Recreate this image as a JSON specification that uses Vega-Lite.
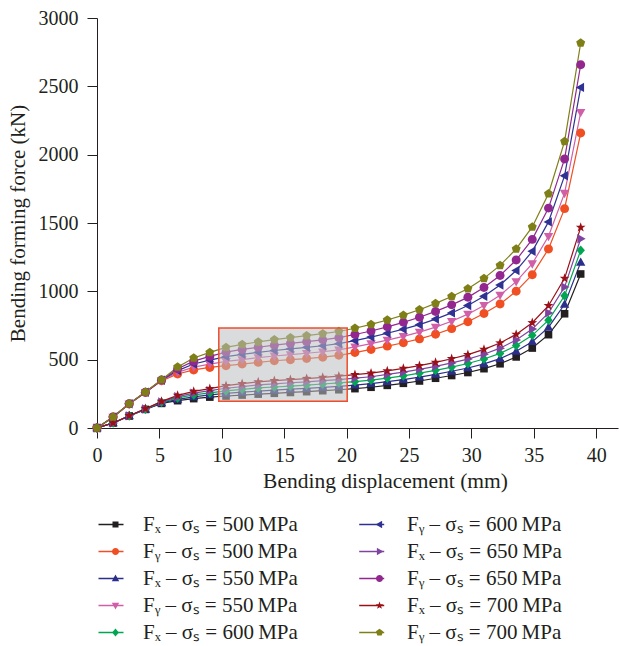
{
  "$schema": "https://vega.github.io/schema/vega-lite/v6.json",
  "width": 521,
  "height": 410,
  "autosize": {"type": "none"},
  "padding": {"left": 97, "top": 18, "right": 1, "bottom": 218},
  "background": "white",
  "config": {
    "view": {"stroke": null},
    "font": "Liberation Serif",
    "axis": {
      "grid": false,
      "domainColor": "#231f20",
      "domainWidth": 1,
      "tickColor": "#231f20",
      "tickWidth": 1,
      "labelColor": "#231f20",
      "titleColor": "#231f20",
      "labelFont": "Liberation Serif",
      "titleFont": "Liberation Serif",
      "labelFontSize": 20,
      "titleFontSize": 21,
      "titleFontWeight": "normal",
      "labelFlush": false,
      "labelOverlap": false,
      "labelBound": false
    }
  },
  "data": {
    "values": [
      {"s": "Fx500", "d": 0, "f": 0}, {"s": "Fx500", "d": 1.29, "f": 37}, {"s": "Fx500", "d": 2.58, "f": 88}, {"s": "Fx500", "d": 3.88, "f": 136}, {"s": "Fx500", "d": 5.17, "f": 180}, {"s": "Fx500", "d": 6.46, "f": 200}, {"s": "Fx500", "d": 7.75, "f": 215}, {"s": "Fx500", "d": 9.04, "f": 226}, {"s": "Fx500", "d": 10.34, "f": 234}, {"s": "Fx500", "d": 11.63, "f": 241}, {"s": "Fx500", "d": 12.92, "f": 248}, {"s": "Fx500", "d": 14.21, "f": 254}, {"s": "Fx500", "d": 15.5, "f": 260}, {"s": "Fx500", "d": 16.8, "f": 266}, {"s": "Fx500", "d": 18.09, "f": 273}, {"s": "Fx500", "d": 19.38, "f": 280}, {"s": "Fx500", "d": 20.67, "f": 288}, {"s": "Fx500", "d": 21.96, "f": 298}, {"s": "Fx500", "d": 23.26, "f": 312}, {"s": "Fx500", "d": 24.55, "f": 327}, {"s": "Fx500", "d": 25.84, "f": 344}, {"s": "Fx500", "d": 27.13, "f": 364}, {"s": "Fx500", "d": 28.42, "f": 384}, {"s": "Fx500", "d": 29.72, "f": 406}, {"s": "Fx500", "d": 31.01, "f": 434}, {"s": "Fx500", "d": 32.3, "f": 470}, {"s": "Fx500", "d": 33.59, "f": 520}, {"s": "Fx500", "d": 34.88, "f": 585}, {"s": "Fx500", "d": 36.18, "f": 683}, {"s": "Fx500", "d": 37.47, "f": 836}, {"s": "Fx500", "d": 38.76, "f": 1127},
      {"s": "Fy500", "d": 0, "f": 0}, {"s": "Fy500", "d": 1.29, "f": 80}, {"s": "Fy500", "d": 2.58, "f": 176}, {"s": "Fy500", "d": 3.88, "f": 260}, {"s": "Fy500", "d": 5.17, "f": 345}, {"s": "Fy500", "d": 6.46, "f": 395}, {"s": "Fy500", "d": 7.75, "f": 425}, {"s": "Fy500", "d": 9.04, "f": 443}, {"s": "Fy500", "d": 10.34, "f": 456}, {"s": "Fy500", "d": 11.63, "f": 468}, {"s": "Fy500", "d": 12.92, "f": 480}, {"s": "Fy500", "d": 14.21, "f": 492}, {"s": "Fy500", "d": 15.5, "f": 500}, {"s": "Fy500", "d": 16.8, "f": 508}, {"s": "Fy500", "d": 18.09, "f": 518}, {"s": "Fy500", "d": 19.38, "f": 532}, {"s": "Fy500", "d": 20.67, "f": 552}, {"s": "Fy500", "d": 21.96, "f": 575}, {"s": "Fy500", "d": 23.26, "f": 599}, {"s": "Fy500", "d": 24.55, "f": 624}, {"s": "Fy500", "d": 25.84, "f": 652}, {"s": "Fy500", "d": 27.13, "f": 686}, {"s": "Fy500", "d": 28.42, "f": 727}, {"s": "Fy500", "d": 29.72, "f": 778}, {"s": "Fy500", "d": 31.01, "f": 838}, {"s": "Fy500", "d": 32.3, "f": 907}, {"s": "Fy500", "d": 33.59, "f": 1000}, {"s": "Fy500", "d": 34.88, "f": 1122}, {"s": "Fy500", "d": 36.18, "f": 1310}, {"s": "Fy500", "d": 37.47, "f": 1605}, {"s": "Fy500", "d": 38.76, "f": 2158},
      {"s": "Fx550", "d": 0, "f": 0}, {"s": "Fx550", "d": 1.29, "f": 37}, {"s": "Fx550", "d": 2.58, "f": 88}, {"s": "Fx550", "d": 3.88, "f": 137}, {"s": "Fx550", "d": 5.17, "f": 184}, {"s": "Fx550", "d": 6.46, "f": 210}, {"s": "Fx550", "d": 7.75, "f": 228}, {"s": "Fx550", "d": 9.04, "f": 242}, {"s": "Fx550", "d": 10.34, "f": 253}, {"s": "Fx550", "d": 11.63, "f": 262}, {"s": "Fx550", "d": 12.92, "f": 270}, {"s": "Fx550", "d": 14.21, "f": 277}, {"s": "Fx550", "d": 15.5, "f": 284}, {"s": "Fx550", "d": 16.8, "f": 290}, {"s": "Fx550", "d": 18.09, "f": 297}, {"s": "Fx550", "d": 19.38, "f": 305}, {"s": "Fx550", "d": 20.67, "f": 314}, {"s": "Fx550", "d": 21.96, "f": 324}, {"s": "Fx550", "d": 23.26, "f": 339}, {"s": "Fx550", "d": 24.55, "f": 354}, {"s": "Fx550", "d": 25.84, "f": 372}, {"s": "Fx550", "d": 27.13, "f": 393}, {"s": "Fx550", "d": 28.42, "f": 415}, {"s": "Fx550", "d": 29.72, "f": 439}, {"s": "Fx550", "d": 31.01, "f": 469}, {"s": "Fx550", "d": 32.3, "f": 508}, {"s": "Fx550", "d": 33.59, "f": 561}, {"s": "Fx550", "d": 34.88, "f": 631}, {"s": "Fx550", "d": 36.18, "f": 736}, {"s": "Fx550", "d": 37.47, "f": 905}, {"s": "Fx550", "d": 38.76, "f": 1212},
      {"s": "Fy550", "d": 0, "f": 0}, {"s": "Fy550", "d": 1.29, "f": 80}, {"s": "Fy550", "d": 2.58, "f": 176}, {"s": "Fy550", "d": 3.88, "f": 261}, {"s": "Fy550", "d": 5.17, "f": 347}, {"s": "Fy550", "d": 6.46, "f": 407}, {"s": "Fy550", "d": 7.75, "f": 445}, {"s": "Fy550", "d": 9.04, "f": 468}, {"s": "Fy550", "d": 10.34, "f": 487}, {"s": "Fy550", "d": 11.63, "f": 501}, {"s": "Fy550", "d": 12.92, "f": 515}, {"s": "Fy550", "d": 14.21, "f": 527}, {"s": "Fy550", "d": 15.5, "f": 537}, {"s": "Fy550", "d": 16.8, "f": 547}, {"s": "Fy550", "d": 18.09, "f": 558}, {"s": "Fy550", "d": 19.38, "f": 572}, {"s": "Fy550", "d": 20.67, "f": 593}, {"s": "Fy550", "d": 21.96, "f": 617}, {"s": "Fy550", "d": 23.26, "f": 643}, {"s": "Fy550", "d": 24.55, "f": 670}, {"s": "Fy550", "d": 25.84, "f": 701}, {"s": "Fy550", "d": 27.13, "f": 738}, {"s": "Fy550", "d": 28.42, "f": 781}, {"s": "Fy550", "d": 29.72, "f": 833}, {"s": "Fy550", "d": 31.01, "f": 897}, {"s": "Fy550", "d": 32.3, "f": 972}, {"s": "Fy550", "d": 33.59, "f": 1071}, {"s": "Fy550", "d": 34.88, "f": 1202}, {"s": "Fy550", "d": 36.18, "f": 1403}, {"s": "Fy550", "d": 37.47, "f": 1718}, {"s": "Fy550", "d": 38.76, "f": 2310},
      {"s": "Fx600", "d": 0, "f": 0}, {"s": "Fx600", "d": 1.29, "f": 37}, {"s": "Fx600", "d": 2.58, "f": 89}, {"s": "Fx600", "d": 3.88, "f": 138}, {"s": "Fx600", "d": 5.17, "f": 188}, {"s": "Fx600", "d": 6.46, "f": 220}, {"s": "Fx600", "d": 7.75, "f": 242}, {"s": "Fx600", "d": 9.04, "f": 257}, {"s": "Fx600", "d": 10.34, "f": 272}, {"s": "Fx600", "d": 11.63, "f": 283}, {"s": "Fx600", "d": 12.92, "f": 293}, {"s": "Fx600", "d": 14.21, "f": 300}, {"s": "Fx600", "d": 15.5, "f": 307}, {"s": "Fx600", "d": 16.8, "f": 314}, {"s": "Fx600", "d": 18.09, "f": 322}, {"s": "Fx600", "d": 19.38, "f": 330}, {"s": "Fx600", "d": 20.67, "f": 339}, {"s": "Fx600", "d": 21.96, "f": 350}, {"s": "Fx600", "d": 23.26, "f": 365}, {"s": "Fx600", "d": 24.55, "f": 382}, {"s": "Fx600", "d": 25.84, "f": 401}, {"s": "Fx600", "d": 27.13, "f": 422}, {"s": "Fx600", "d": 28.42, "f": 446}, {"s": "Fx600", "d": 29.72, "f": 472}, {"s": "Fx600", "d": 31.01, "f": 505}, {"s": "Fx600", "d": 32.3, "f": 546}, {"s": "Fx600", "d": 33.59, "f": 603}, {"s": "Fx600", "d": 34.88, "f": 678}, {"s": "Fx600", "d": 36.18, "f": 789}, {"s": "Fx600", "d": 37.47, "f": 968}, {"s": "Fx600", "d": 38.76, "f": 1300},
      {"s": "Fy600", "d": 0, "f": 0}, {"s": "Fy600", "d": 1.29, "f": 80}, {"s": "Fy600", "d": 2.58, "f": 177}, {"s": "Fy600", "d": 3.88, "f": 262}, {"s": "Fy600", "d": 5.17, "f": 349}, {"s": "Fy600", "d": 6.46, "f": 420}, {"s": "Fy600", "d": 7.75, "f": 468}, {"s": "Fy600", "d": 9.04, "f": 497}, {"s": "Fy600", "d": 10.34, "f": 522}, {"s": "Fy600", "d": 11.63, "f": 539}, {"s": "Fy600", "d": 12.92, "f": 554}, {"s": "Fy600", "d": 14.21, "f": 567}, {"s": "Fy600", "d": 15.5, "f": 579}, {"s": "Fy600", "d": 16.8, "f": 590}, {"s": "Fy600", "d": 18.09, "f": 602}, {"s": "Fy600", "d": 19.38, "f": 617}, {"s": "Fy600", "d": 20.67, "f": 639}, {"s": "Fy600", "d": 21.96, "f": 665}, {"s": "Fy600", "d": 23.26, "f": 693}, {"s": "Fy600", "d": 24.55, "f": 723}, {"s": "Fy600", "d": 25.84, "f": 756}, {"s": "Fy600", "d": 27.13, "f": 797}, {"s": "Fy600", "d": 28.42, "f": 842}, {"s": "Fy600", "d": 29.72, "f": 896}, {"s": "Fy600", "d": 31.01, "f": 964}, {"s": "Fy600", "d": 32.3, "f": 1046}, {"s": "Fy600", "d": 33.59, "f": 1152}, {"s": "Fy600", "d": 34.88, "f": 1293}, {"s": "Fy600", "d": 36.18, "f": 1508}, {"s": "Fy600", "d": 37.47, "f": 1846}, {"s": "Fy600", "d": 38.76, "f": 2492},
      {"s": "Fx650", "d": 0, "f": 0}, {"s": "Fx650", "d": 1.29, "f": 37}, {"s": "Fx650", "d": 2.58, "f": 89}, {"s": "Fx650", "d": 3.88, "f": 140}, {"s": "Fx650", "d": 5.17, "f": 191}, {"s": "Fx650", "d": 6.46, "f": 229}, {"s": "Fx650", "d": 7.75, "f": 255}, {"s": "Fx650", "d": 9.04, "f": 273}, {"s": "Fx650", "d": 10.34, "f": 291}, {"s": "Fx650", "d": 11.63, "f": 303}, {"s": "Fx650", "d": 12.92, "f": 315}, {"s": "Fx650", "d": 14.21, "f": 323}, {"s": "Fx650", "d": 15.5, "f": 331}, {"s": "Fx650", "d": 16.8, "f": 338}, {"s": "Fx650", "d": 18.09, "f": 346}, {"s": "Fx650", "d": 19.38, "f": 354}, {"s": "Fx650", "d": 20.67, "f": 365}, {"s": "Fx650", "d": 21.96, "f": 375}, {"s": "Fx650", "d": 23.26, "f": 392}, {"s": "Fx650", "d": 24.55, "f": 409}, {"s": "Fx650", "d": 25.84, "f": 429}, {"s": "Fx650", "d": 27.13, "f": 451}, {"s": "Fx650", "d": 28.42, "f": 476}, {"s": "Fx650", "d": 29.72, "f": 504}, {"s": "Fx650", "d": 31.01, "f": 540}, {"s": "Fx650", "d": 32.3, "f": 584}, {"s": "Fx650", "d": 33.59, "f": 644}, {"s": "Fx650", "d": 34.88, "f": 724}, {"s": "Fx650", "d": 36.18, "f": 842}, {"s": "Fx650", "d": 37.47, "f": 1031}, {"s": "Fx650", "d": 38.76, "f": 1385},
      {"s": "Fy650", "d": 0, "f": 0}, {"s": "Fy650", "d": 1.29, "f": 80}, {"s": "Fy650", "d": 2.58, "f": 177}, {"s": "Fy650", "d": 3.88, "f": 262}, {"s": "Fy650", "d": 5.17, "f": 351}, {"s": "Fy650", "d": 6.46, "f": 433}, {"s": "Fy650", "d": 7.75, "f": 489}, {"s": "Fy650", "d": 9.04, "f": 524}, {"s": "Fy650", "d": 10.34, "f": 555}, {"s": "Fy650", "d": 11.63, "f": 575}, {"s": "Fy650", "d": 12.92, "f": 591}, {"s": "Fy650", "d": 14.21, "f": 606}, {"s": "Fy650", "d": 15.5, "f": 619}, {"s": "Fy650", "d": 16.8, "f": 632}, {"s": "Fy650", "d": 18.09, "f": 645}, {"s": "Fy650", "d": 19.38, "f": 661}, {"s": "Fy650", "d": 20.67, "f": 684}, {"s": "Fy650", "d": 21.96, "f": 710}, {"s": "Fy650", "d": 23.26, "f": 740}, {"s": "Fy650", "d": 24.55, "f": 773}, {"s": "Fy650", "d": 25.84, "f": 810}, {"s": "Fy650", "d": 27.13, "f": 853}, {"s": "Fy650", "d": 28.42, "f": 901}, {"s": "Fy650", "d": 29.72, "f": 956}, {"s": "Fy650", "d": 31.01, "f": 1028}, {"s": "Fy650", "d": 32.3, "f": 1116}, {"s": "Fy650", "d": 33.59, "f": 1229}, {"s": "Fy650", "d": 34.88, "f": 1380}, {"s": "Fy650", "d": 36.18, "f": 1609}, {"s": "Fy650", "d": 37.47, "f": 1969}, {"s": "Fy650", "d": 38.76, "f": 2658},
      {"s": "Fx700", "d": 0, "f": 0}, {"s": "Fx700", "d": 1.29, "f": 37}, {"s": "Fx700", "d": 2.58, "f": 90}, {"s": "Fx700", "d": 3.88, "f": 141}, {"s": "Fx700", "d": 5.17, "f": 195}, {"s": "Fx700", "d": 6.46, "f": 239}, {"s": "Fx700", "d": 7.75, "f": 268}, {"s": "Fx700", "d": 9.04, "f": 288}, {"s": "Fx700", "d": 10.34, "f": 310}, {"s": "Fx700", "d": 11.63, "f": 324}, {"s": "Fx700", "d": 12.92, "f": 337}, {"s": "Fx700", "d": 14.21, "f": 346}, {"s": "Fx700", "d": 15.5, "f": 354}, {"s": "Fx700", "d": 16.8, "f": 362}, {"s": "Fx700", "d": 18.09, "f": 370}, {"s": "Fx700", "d": 19.38, "f": 379}, {"s": "Fx700", "d": 20.67, "f": 390}, {"s": "Fx700", "d": 21.96, "f": 401}, {"s": "Fx700", "d": 23.26, "f": 418}, {"s": "Fx700", "d": 24.55, "f": 436}, {"s": "Fx700", "d": 25.84, "f": 457}, {"s": "Fx700", "d": 27.13, "f": 480}, {"s": "Fx700", "d": 28.42, "f": 507}, {"s": "Fx700", "d": 29.72, "f": 537}, {"s": "Fx700", "d": 31.01, "f": 575}, {"s": "Fx700", "d": 32.3, "f": 622}, {"s": "Fx700", "d": 33.59, "f": 685}, {"s": "Fx700", "d": 34.88, "f": 770}, {"s": "Fx700", "d": 36.18, "f": 895}, {"s": "Fx700", "d": 37.47, "f": 1095}, {"s": "Fx700", "d": 38.76, "f": 1468},
      {"s": "Fy700", "d": 0, "f": 0}, {"s": "Fy700", "d": 1.29, "f": 80}, {"s": "Fy700", "d": 2.58, "f": 178}, {"s": "Fy700", "d": 3.88, "f": 263}, {"s": "Fy700", "d": 5.17, "f": 353}, {"s": "Fy700", "d": 6.46, "f": 446}, {"s": "Fy700", "d": 7.75, "f": 512}, {"s": "Fy700", "d": 9.04, "f": 553}, {"s": "Fy700", "d": 10.34, "f": 590}, {"s": "Fy700", "d": 11.63, "f": 612}, {"s": "Fy700", "d": 12.92, "f": 630}, {"s": "Fy700", "d": 14.21, "f": 646}, {"s": "Fy700", "d": 15.5, "f": 661}, {"s": "Fy700", "d": 16.8, "f": 676}, {"s": "Fy700", "d": 18.09, "f": 690}, {"s": "Fy700", "d": 19.38, "f": 706}, {"s": "Fy700", "d": 20.67, "f": 730}, {"s": "Fy700", "d": 21.96, "f": 758}, {"s": "Fy700", "d": 23.26, "f": 790}, {"s": "Fy700", "d": 24.55, "f": 826}, {"s": "Fy700", "d": 25.84, "f": 865}, {"s": "Fy700", "d": 27.13, "f": 912}, {"s": "Fy700", "d": 28.42, "f": 962}, {"s": "Fy700", "d": 29.72, "f": 1019}, {"s": "Fy700", "d": 31.01, "f": 1095}, {"s": "Fy700", "d": 32.3, "f": 1190}, {"s": "Fy700", "d": 33.59, "f": 1310}, {"s": "Fy700", "d": 34.88, "f": 1471}, {"s": "Fy700", "d": 36.18, "f": 1714}, {"s": "Fy700", "d": 37.47, "f": 2097}, {"s": "Fy700", "d": 38.76, "f": 2817}
    ]
  },
  "layer": [
    {
      "mark": {"type": "line", "strokeWidth": 1.2},
      "encoding": {
        "x": {
          "field": "d", "type": "quantitative", "title": "Bending displacement (mm)",
          "scale": {"domain": [0, 41.75], "nice": false, "zero": false},
          "axis": {
            "values": [0, 2.5, 5, 7.5, 10, 12.5, 15, 17.5, 20, 22.5, 25, 27.5, 30, 32.5, 35, 37.5, 40],
            "labelExpr": "datum.value % 5 === 0 ? format(datum.value, 'd') : ''",
            "tickSize": {"condition": {"test": "datum.value % 5 === 0", "value": 10}, "value": 5},
            "labelPadding": 7,
            "titlePadding": 5,
            "titleFontSize": 21.5,
            "titleX": 288
          }
        },
        "y": {
          "field": "f", "type": "quantitative", "title": "Bending forming force (kN)",
          "scale": {"domain": [0, 3000], "nice": false},
          "axis": {
            "values": [0, 250, 500, 750, 1000, 1250, 1500, 1750, 2000, 2250, 2500, 2750, 3000],
            "labelExpr": "datum.value % 500 === 0 ? format(datum.value, 'd') : ''",
            "tickSize": {"condition": {"test": "datum.value % 500 === 0", "value": 10}, "value": 5},
            "labelPadding": 9,
            "titlePadding": 10
          }
        },
        "stroke": {
          "field": "s", "type": "nominal",
          "sort": ["Fx500", "Fy500", "Fx550", "Fy550", "Fx600", "Fy600", "Fx650", "Fy650", "Fx700", "Fy700"],
          "scale": {
            "range": ["#231f20", "#f04e23", "#2b2e8a", "#d15ea8", "#00a651", "#2f3293", "#7e45a0", "#92278f", "#9b1016", "#7f7f18"]
          },
          "legend": {
            "title": null, "orient": "none", "legendX": 0.5, "legendY": 496, "columns": 2,
            "columnPadding": 234.7, "rowPadding": 5, "padding": 0, "clipHeight": 21,
            "symbolType": "stroke", "symbolSize": 1225, "symbolStrokeWidth": 1.3, "labelOffset": -11,
            "labelFont": "Liberation Serif", "labelFontSize": 21, "labelLimit": 0,
            "labelExpr": "''"
          }
        }
      }
    },
    {
      "mark": {"type": "point", "filled": true, "size": 80, "opacity": 1},
      "encoding": {
        "x": {"field": "d", "type": "quantitative", "title": "Bending displacement (mm)", "scale": {"domain": [0, 41.75], "nice": false, "zero": false}},
        "y": {"field": "f", "type": "quantitative", "title": "Bending forming force (kN)", "scale": {"domain": [0, 3000], "nice": false}},
        "color": {
          "field": "s", "type": "nominal",
          "scale": {
            "domain": ["Fx500", "Fy500", "Fx550", "Fy550", "Fx600", "Fy600", "Fx650", "Fy650", "Fx700", "Fy700"],
            "range": ["#231f20", "#f04e23", "#2b2e8a", "#d15ea8", "#00a651", "#2f3293", "#7e45a0", "#92278f", "#9b1016", "#7f7f18"]
          },
          "legend": {
            "title": null, "orient": "none", "legendX": 8, "legendY": 496, "columns": 2,
            "columnPadding": 71, "rowPadding": 5, "padding": 0, "clipHeight": 21, "symbolSize": 50, "labelOffset": 17,
            "labelFont": "Liberation Serif", "labelFontSize": 21, "labelColor": "#231f20", "labelLimit": 0,
            "labelExpr": "'F' + (indexof(datum.label, 'x') >= 0 ? '\u2093' : '\u1d67') + ' \u2013 \u03c3\u209b = ' + substring(datum.label, 2) + '\u2009MPa'"
          }
        },
        "shape": {
          "field": "s", "type": "nominal",
          "scale": {
            "domain": ["Fx500", "Fy500", "Fx550", "Fy550", "Fx600", "Fy600", "Fx650", "Fy650", "Fx700", "Fy700"],
            "range": [
              "M-0.85,-0.85H0.85V0.85H-0.85Z",
              "M1,0A1,1,0,1,1,-1,0A1,1,0,1,1,1,0Z",
              "M0,-1.1L1.05,0.75H-1.05Z",
              "M0,1.1L1.05,-0.75H-1.05Z",
              "M0,-1.1L0.95,0L0,1.1L-0.95,0Z",
              "M-1.1,0L0.75,-1.05V1.05Z",
              "M1.1,0L-0.75,-1.05V1.05Z",
              "M1,0A1,1,0,1,1,-1,0A1,1,0,1,1,1,0Z",
              "M0,-1.15L0.27,-0.37L1.09,-0.36L0.44,0.14L0.68,0.93L0,0.46L-0.68,0.93L-0.44,0.14L-1.09,-0.36L-0.27,-0.37Z",
              "M0,-1.05L1,-0.32L0.62,0.85L-0.62,0.85L-1,-0.32Z"
            ]
          },
          "legend": {
            "title": null, "orient": "none", "legendX": 8, "legendY": 496, "columns": 2,
            "columnPadding": 71, "rowPadding": 5, "padding": 0, "clipHeight": 21, "symbolSize": 50, "labelOffset": 17,
            "labelFont": "Liberation Serif", "labelFontSize": 21, "labelColor": "#231f20", "labelLimit": 0,
            "labelExpr": "'F' + (indexof(datum.label, 'x') >= 0 ? '\u2093' : '\u1d67') + ' \u2013 \u03c3\u209b = ' + substring(datum.label, 2) + '\u2009MPa'"
          }
        }
      }
    },
    {
      "data": {"values": [{"x1": 9.76, "x2": 20.05, "y1": 195, "y2": 732}]},
      "mark": {"type": "rect", "fill": "#bcbec0", "fillOpacity": 0.55, "stroke": "#ef4d2b", "strokeWidth": 1.5},
      "encoding": {
        "x": {"field": "x1", "type": "quantitative", "title": "Bending displacement (mm)", "scale": {"domain": [0, 41.75], "nice": false, "zero": false}},
        "x2": {"field": "x2"},
        "y": {"field": "y1", "type": "quantitative", "title": "Bending forming force (kN)", "scale": {"domain": [0, 3000], "nice": false}},
        "y2": {"field": "y2"}
      }
    }
  ]
}
